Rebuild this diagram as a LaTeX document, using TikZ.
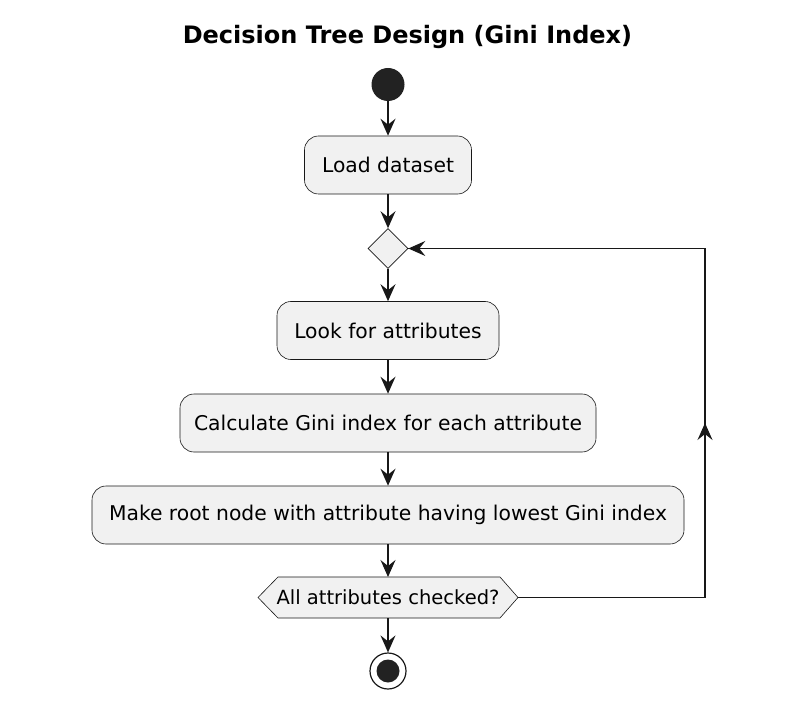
\documentclass[tikz,border=0pt]{standalone}
\usepackage{fontspec}
\setmainfont{DejaVu Sans}
\usetikzlibrary{arrows.meta,shapes.misc,shapes.geometric}
\definecolor{boxfill}{HTML}{F1F1F1}
\definecolor{boxline}{HTML}{181818}
\definecolor{dotfill}{HTML}{222222}
\begin{document}
\begin{tikzpicture}[x=1pt,y=-1pt,
  actbox/.style={draw=boxline,fill=boxfill,line width=0.6pt,rounded corners=14pt,
    minimum height=58pt,inner xsep=0pt,font=\fontsize{20.3}{24}\selectfont,anchor=center},
  conn/.style={draw=boxline,line width=1.3pt,-{Stealth[length=17pt,width=15pt,inset=6pt]}},
  midarrow/.style={draw=boxline,line width=1.3pt}]
\useasboundingbox (0,0) rectangle (795,703);
\node[font=\bfseries\fontsize{24}{28}\selectfont] (title) at (407.5,37) {Decision Tree Design (Gini Index)};
\node[circle,fill=dotfill,minimum size=33pt,inner sep=0pt] (start) at (388,84.5) {};
\node[actbox,minimum width=167pt] (load) at (388,165) {Load dataset};
\node[diamond,draw=boxline,fill=boxfill,line width=0.6pt,minimum width=40pt,minimum height=40pt,inner sep=0pt] (merge) at (388,248.5) {};
\node[actbox,minimum width=222pt] (look) at (388,330.5) {Look for attributes};
\node[actbox,minimum width=416pt] (calc) at (388,423) {Calculate Gini index for each attribute};
\node[actbox,minimum width=592pt] (make) at (388,515) {Make root node with attribute having lowest Gini index};
\draw[draw=boxline,fill=boxfill,line width=0.6pt] (258,597.5) -- (278,577) -- (500,577) -- (518,597.5) -- (500,618) -- (278,618) -- cycle;
\node[font=\fontsize{19.5}{23}\selectfont,inner sep=0pt] (check) at (388,597.5) {All attributes checked?};
\coordinate (checkL) at (258,597.5);
\coordinate (checkR) at (518,597.5);
\coordinate (checkT) at (388,577);
\coordinate (checkB) at (388,618);
\node[circle,draw=boxline,line width=1.2pt,minimum size=36pt,inner sep=0pt] (stop) at (388,671) {};
\node[circle,fill=dotfill,minimum size=23pt,inner sep=0pt] at (stop) {};
\draw[conn] (start) -- (load);
\draw[conn] (load) -- (merge);
\draw[conn] (merge) -- (look);
\draw[conn] (look) -- (calc);
\draw[conn] (calc) -- (make);
\draw[conn] (make.south) -- (checkT);
\draw[conn] (checkB) -- (stop);
\coordinate (cornerB) at (705,597.5);
\coordinate (cornerT) at (705,248.5);
\coordinate (midup) at (705,423);
\draw[midarrow] (checkR) -- (cornerB) -- (cornerT) -- (merge.east);
\draw[conn] (cornerB) -- (midup);
\draw[conn,shorten >=0pt] (cornerT) -- (merge.east);
\end{tikzpicture}
\end{document}
